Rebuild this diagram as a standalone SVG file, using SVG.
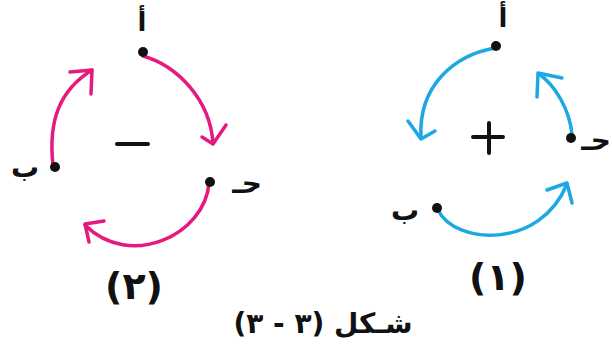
<svg xmlns="http://www.w3.org/2000/svg" width="612" height="347" viewBox="0 0 612 347">
<style>
.pink{fill:none;stroke:#E6197F;stroke-width:3.5;stroke-linecap:round;stroke-linejoin:round}
.blue{fill:none;stroke:#1CA9E1;stroke-width:3.5;stroke-linecap:round;stroke-linejoin:round}
.sign{fill:none;stroke:#111;stroke-width:4;stroke-linecap:round}
.dot{fill:#111}
.lbl{font-family:"DejaVu Sans",sans-serif;font-size:28px;fill:#111;font-weight:bold}
.lblA{font-family:"DejaVu Sans",sans-serif;font-size:26px;fill:#111;font-weight:bold}
.num{font-family:"DejaVu Sans",sans-serif;font-size:38px;fill:#111;font-weight:600}
.cap{font-family:"DejaVu Sans",sans-serif;font-size:28px;fill:#111;font-weight:bold}
</style>
<rect width="612" height="347" fill="#fff"/>
<g id="connectors">
  <path class="pink" d="M143,56 C178,66 210,100 213,143"/>
  <path class="pink" d="M202,137 L213,144 L226,125"/>
  <path class="pink" d="M209,183 C205,235 130,270 85,225"/>
  <path class="pink" d="M104,221 L85,224 L89,242"/>
  <path class="pink" d="M53,165 C48,120 60,90 92,70"/>
  <path class="pink" d="M70,72 L92,70 L91,94"/>
  <path class="blue" d="M495,48 C455,55 418,85 421,138"/>
  <path class="blue" d="M408,121 L421,139 L435,131"/>
  <path class="blue" d="M572,135 C570,110 555,85 539,74"/>
  <path class="blue" d="M562,78 L538,73 L537,97"/>
  <path class="blue" d="M438,210 C455,245 540,250 567,184"/>
  <path class="blue" d="M547,190 L567,183 L572,203"/>
</g>
<g id="left-diagram">
  <g id="L-a"><circle class="dot" cx="143" cy="52" r="5"/><text class="lblA" x="142" y="31" text-anchor="middle">أ</text></g>
  <g id="L-b"><circle class="dot" cx="55" cy="167" r="5"/><text class="lbl" x="25" y="177" text-anchor="middle">ب</text></g>
  <g id="L-h"><circle class="dot" cx="210" cy="182" r="5"/><text class="lbl" x="247" y="193" text-anchor="middle">حـ</text></g>
  <g id="L-sign"><path class="sign" d="M117,144 H148"/></g>
  <g id="L-num"><text class="num" x="134" y="299" text-anchor="middle">(٢)</text></g>
</g>
<g id="right-diagram">
  <g id="R-a"><circle class="dot" cx="496" cy="46" r="5"/><text class="lblA" x="503" y="27" text-anchor="middle">أ</text></g>
  <g id="R-b"><circle class="dot" cx="437" cy="208" r="5"/><text class="lbl" x="405" y="220" text-anchor="middle">ب</text></g>
  <g id="R-h"><circle class="dot" cx="571" cy="138" r="5"/><text class="lbl" x="611" y="150" text-anchor="end">حـ</text></g>
  <g id="R-sign"><path class="sign" d="M473,137 H503 M489,123 V153"/></g>
  <g id="R-num"><text class="num" x="498" y="290" text-anchor="middle">(١)</text></g>
</g>
<g id="caption"><text class="cap" x="323" y="333" text-anchor="middle" direction="rtl">شـكل (٣ - ٣)</text></g>
</svg>
